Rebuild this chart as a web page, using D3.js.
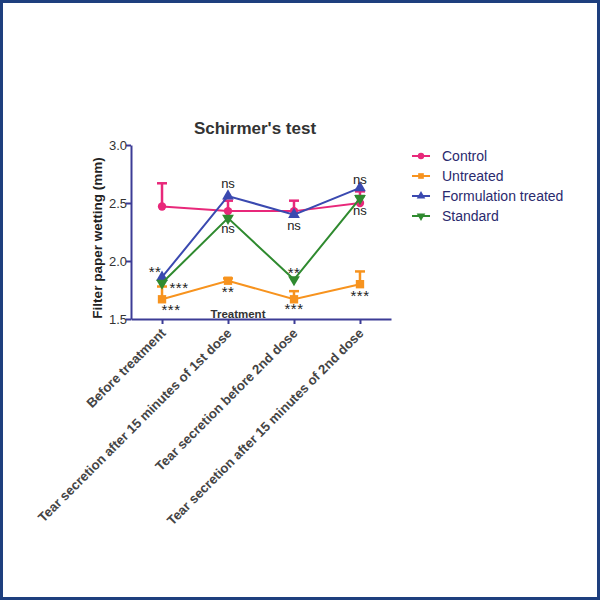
<!DOCTYPE html>
<html><head><meta charset="utf-8">
<script src="https://cdn.jsdelivr.net/npm/d3@7"></script>
<style>body{margin:0;background:#fff}svg{display:block;font-family:Arial,"Liberation Sans",sans-serif}</style>
</head><body>
<script>
const categories = ["Before treatment","Tear secretion after 15 minutes of 1st dose","Tear secretion before 2nd dose","Tear secretion after 15 minutes of 2nd dose"];
const seriesNames = ["Control","Untreated","Formulation treated","Standard"];
const control = [2.47, 2.43, 2.43, 2.50];
const controlErr = [0.20, 0.09, 0.09, 0.10];
const untreated = [1.67, 1.83, 1.67, 1.80];
const untreatedErr = [0.11, 0.02, 0.07, 0.11];
const formulation = [1.86, 2.56, 2.40, 2.63];
const formulationErr = [0, 0, 0, 0];
const standard = [1.81, 2.37, 1.84, 2.54];
const standardErr = [0, 0, 0, 0.02];
const yTicks = [1.5, 2.0, 2.5, 3.0];
// annotations: [category index, value anchor, text, dx, dy]
const annotations = [
  [0, 1.86, "**", -7, 0],
  [0, 1.81, "***", 17, 10],
  [0, 1.67, "***", 9, 16],
  [1, 2.56, "ns", 0, -8],
  [1, 2.37, "ns", 0, 15],
  [1, 1.83, "**", 0, 16],
  [2, 2.40, "ns", 0, 15],
  [2, 1.84, "**", 0, -2],
  [2, 1.67, "***", 0, 15],
  [3, 2.63, "ns", 0, -4],
  [3, 2.50, "ns", 0, 12],
  [3, 1.80, "***", 0, 17]
];

const colors = ["#e8287a", "#f7931e", "#3a49b0", "#2f8a2f"];
const data = [control, untreated, formulation, standard];
const errs = [controlErr, untreatedErr, formulationErr, standardErr];

const W = 600, H = 600;
const svg = d3.select("body").append("svg").attr("width", W).attr("height", H);
svg.append("rect").attr("x",1.5).attr("y",1.5).attr("width",W-3).attr("height",H-3)
  .attr("fill","#fff").attr("stroke","#1e3f7e").attr("stroke-width",3);

const pL = 131, pR = 391, pT = 145, pB = 319;
const x = d3.scalePoint().domain(categories).range([pL, pR]).padding(0.47);
const y = d3.scaleLinear().domain([1.5, 3.0]).range([pB, pT]);
const axisColor = "#3c3c96";

const ya = svg.append("g").attr("transform",`translate(${pL},0)`)
  .call(d3.axisLeft(y).tickValues(yTicks).tickFormat(d3.format(".1f")).tickSize(5).tickSizeOuter(0));
ya.select(".domain").attr("stroke",axisColor).attr("stroke-width",2);
ya.selectAll(".tick line").attr("stroke",axisColor).attr("stroke-width",2);
ya.selectAll(".tick text").attr("fill","#333").attr("font-size",13).attr("x",-4);

const xa = svg.append("g").attr("transform",`translate(0,${pB})`)
  .call(d3.axisBottom(x).tickSize(5).tickSizeOuter(0));
xa.select(".domain").attr("stroke",axisColor).attr("stroke-width",2);
xa.selectAll(".tick line").attr("stroke",axisColor).attr("stroke-width",2);
xa.selectAll(".tick text").attr("fill","#444").attr("font-size",13.2).attr("font-weight","bold")
  .attr("text-anchor","end").attr("dy",0).attr("y",0)
  .attr("transform","translate(4,15) rotate(-45)");

svg.append("text").attr("x",255).attr("y",134).attr("text-anchor","middle")
  .attr("font-size",17).attr("font-weight","bold").attr("fill","#333").text("Schirmer's test");
svg.append("text").attr("transform",`translate(102,${(pT+pB)/2+6}) rotate(-90)`).attr("text-anchor","middle")
  .attr("font-size",13.5).attr("font-weight","bold").attr("fill","#222").text("Filter paper wetting (mm)");
svg.append("text").attr("x",238).attr("y",318).attr("text-anchor","middle")
  .attr("font-size",11.5).attr("font-weight","bold").attr("fill","#333").text("Treatment");

const line = d3.line().x((d,i)=>x(categories[i])).y(d=>y(d));
const symbols = [d3.symbolCircle, d3.symbolSquare, d3.symbolTriangle, d3.symbolTriangle];
const symSizes = [55, 70, 60, 60];

data.forEach((vals, s) => {
  const g = svg.append("g");
  vals.forEach((v,i) => {
    const e = errs[s][i];
    if (e <= 0) return;
    const cx = x(categories[i]);
    g.append("line").attr("x1",cx).attr("x2",cx).attr("y1",y(v)).attr("y2",y(v+e))
      .attr("stroke",colors[s]).attr("stroke-width",2.5);
    g.append("line").attr("x1",cx-5).attr("x2",cx+5).attr("y1",y(v+e)).attr("y2",y(v+e))
      .attr("stroke",colors[s]).attr("stroke-width",2.5);
  });
  g.append("path").attr("d",line(vals)).attr("fill","none").attr("stroke",colors[s]).attr("stroke-width",2);
  vals.forEach((v,i) => {
    g.append("path").attr("d",d3.symbol().type(symbols[s]).size(symSizes[s])())
      .attr("transform",`translate(${x(categories[i])},${y(v)})${s===3?" rotate(180)":""}`)
      .attr("fill",colors[s]);
  });
});

annotations.forEach(([ci, v, t, dx, dy]) => {
  const star = t.indexOf("*") >= 0;
  svg.append("text").attr("x", x(categories[ci]) + dx).attr("y", y(v) + dy)
    .attr("text-anchor","middle").attr("font-size", star ? 15 : 13)
    .attr("letter-spacing", star ? 0.5 : 0).attr("fill","#222").text(t);
});

const lg = svg.append("g");
seriesNames.forEach((n, s) => {
  const ly = 156 + s*20;
  lg.append("line").attr("x1",412).attr("x2",430).attr("y1",ly).attr("y2",ly).attr("stroke",colors[s]).attr("stroke-width",2);
  lg.append("path").attr("d",d3.symbol().type(symbols[s]).size(32)())
    .attr("transform",`translate(421,${ly})${s===3?" rotate(180)":""}`).attr("fill",colors[s]);
  lg.append("text").attr("x",442).attr("y",ly+5).attr("font-size",14).attr("fill","#2a2a6e").text(n);
});
</script>
</body></html>
